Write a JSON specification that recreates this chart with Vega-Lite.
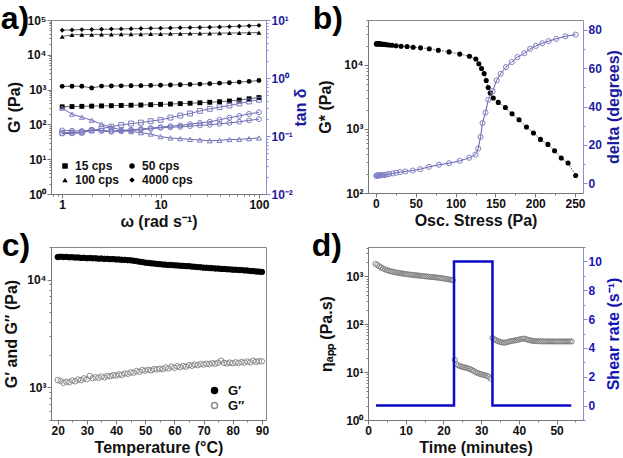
{
"$schema": "https://vega.github.io/schema/vega-lite/v6.json",
"background": "white",
"padding": {"left": 0, "top": 2, "right": 0, "bottom": 0},
"datasets": {
"pa": [
{"w":1,"s":"15 cps","g":320,"t":0.114},{"w":1.259,"s":"15 cps","g":325,"t":0.115},{"w":1.585,"s":"15 cps","g":330,"t":0.116},{"w":1.995,"s":"15 cps","g":335,"t":0.124},{"w":2.512,"s":"15 cps","g":340,"t":0.134},{"w":3.162,"s":"15 cps","g":345,"t":0.145},{"w":3.981,"s":"15 cps","g":350,"t":0.155},{"w":5.012,"s":"15 cps","g":355,"t":0.164},{"w":6.31,"s":"15 cps","g":360,"t":0.170},{"w":7.943,"s":"15 cps","g":368,"t":0.180},{"w":10,"s":"15 cps","g":376,"t":0.190},{"w":12.59,"s":"15 cps","g":385,"t":0.208},{"w":15.85,"s":"15 cps","g":395,"t":0.225},{"w":19.95,"s":"15 cps","g":405,"t":0.244},{"w":25.12,"s":"15 cps","g":418,"t":0.271},{"w":31.62,"s":"15 cps","g":432,"t":0.294},{"w":39.81,"s":"15 cps","g":448,"t":0.314},{"w":50.12,"s":"15 cps","g":468,"t":0.336},{"w":63.1,"s":"15 cps","g":500,"t":0.364},{"w":79.43,"s":"15 cps","g":545,"t":0.394},{"w":100,"s":"15 cps","g":590,"t":0.422},
{"w":1,"s":"50 cps","g":1240,"t":0.125},{"w":1.259,"s":"50 cps","g":1250,"t":0.123},{"w":1.585,"s":"50 cps","g":1250,"t":0.122},{"w":1.995,"s":"50 cps","g":1110,"t":0.126},{"w":2.512,"s":"50 cps","g":1260,"t":0.124},{"w":3.162,"s":"50 cps","g":1270,"t":0.122},{"w":3.981,"s":"50 cps","g":1280,"t":0.125},{"w":5.012,"s":"50 cps","g":1290,"t":0.128},{"w":6.31,"s":"50 cps","g":1300,"t":0.132},{"w":7.943,"s":"50 cps","g":1320,"t":0.137},{"w":10,"s":"50 cps","g":1340,"t":0.142},{"w":12.59,"s":"50 cps","g":1360,"t":0.148},{"w":15.85,"s":"50 cps","g":1380,"t":0.152},{"w":19.95,"s":"50 cps","g":1410,"t":0.160},{"w":25.12,"s":"50 cps","g":1440,"t":0.168},{"w":31.62,"s":"50 cps","g":1480,"t":0.176},{"w":39.81,"s":"50 cps","g":1530,"t":0.190},{"w":50.12,"s":"50 cps","g":1580,"t":0.207},{"w":63.1,"s":"50 cps","g":1640,"t":0.222},{"w":79.43,"s":"50 cps","g":1720,"t":0.240},{"w":100,"s":"50 cps","g":1820,"t":0.256},
{"w":1,"s":"100 cps","g":33500,"t":0.302},{"w":1.259,"s":"100 cps","g":37500,"t":0.238},{"w":1.585,"s":"100 cps","g":38000,"t":0.211},{"w":1.995,"s":"100 cps","g":38200,"t":0.187},{"w":2.512,"s":"100 cps","g":38500,"t":0.160},{"w":3.162,"s":"100 cps","g":38800,"t":0.141},{"w":3.981,"s":"100 cps","g":39000,"t":0.127},{"w":5.012,"s":"100 cps","g":39300,"t":0.119},{"w":6.31,"s":"100 cps","g":39500,"t":0.114},{"w":7.943,"s":"100 cps","g":39800,"t":0.108},{"w":10,"s":"100 cps","g":40000,"t":0.0975},{"w":12.59,"s":"100 cps","g":40300,"t":0.0925},{"w":15.85,"s":"100 cps","g":40600,"t":0.090},{"w":19.95,"s":"100 cps","g":41000,"t":0.0875},{"w":25.12,"s":"100 cps","g":41300,"t":0.0853},{"w":31.62,"s":"100 cps","g":41600,"t":0.083},{"w":39.81,"s":"100 cps","g":42000,"t":0.084},{"w":50.12,"s":"100 cps","g":42300,"t":0.087},{"w":63.1,"s":"100 cps","g":42600,"t":0.0875},{"w":79.43,"s":"100 cps","g":43000,"t":0.090},{"w":100,"s":"100 cps","g":43500,"t":0.0925},
{"w":1,"s":"4000 cps","g":51000,"t":0.110},{"w":1.259,"s":"4000 cps","g":52000,"t":0.111},{"w":1.585,"s":"4000 cps","g":53000,"t":0.113},{"w":1.995,"s":"4000 cps","g":53500,"t":0.128},{"w":2.512,"s":"4000 cps","g":54000,"t":0.122},{"w":3.162,"s":"4000 cps","g":55000,"t":0.118},{"w":3.981,"s":"4000 cps","g":55500,"t":0.120},{"w":5.012,"s":"4000 cps","g":56000,"t":0.124},{"w":6.31,"s":"4000 cps","g":57000,"t":0.128},{"w":7.943,"s":"4000 cps","g":57500,"t":0.133},{"w":10,"s":"4000 cps","g":58000,"t":0.138},{"w":12.59,"s":"4000 cps","g":59000,"t":0.141},{"w":15.85,"s":"4000 cps","g":60000,"t":0.144},{"w":19.95,"s":"4000 cps","g":60500,"t":0.148},{"w":25.12,"s":"4000 cps","g":61000,"t":0.152},{"w":31.62,"s":"4000 cps","g":62000,"t":0.156},{"w":39.81,"s":"4000 cps","g":63000,"t":0.162},{"w":50.12,"s":"4000 cps","g":64500,"t":0.168},{"w":63.1,"s":"4000 cps","g":66000,"t":0.176},{"w":79.43,"s":"4000 cps","g":68000,"t":0.186},{"w":100,"s":"4000 cps","g":70000,"t":0.195}
],
"pbG": [
{"x":0.5,"y":21200},{"x":1,"y":21300},{"x":1.5,"y":21300},{"x":2.5,"y":21300},{"x":3.5,"y":21200},{"x":4.5,"y":21200},{"x":6,"y":21100},{"x":7.5,"y":21000},{"x":9,"y":20900},{"x":11,"y":20800},{"x":13.5,"y":20600},{"x":16.5,"y":20400},{"x":20.2,"y":20200},{"x":25.3,"y":19800},{"x":31.6,"y":19500},{"x":39.1,"y":19300},{"x":46.7,"y":18800},{"x":56,"y":18400},{"x":66.9,"y":17800},{"x":78.3,"y":16900},{"x":91.8,"y":15900},{"x":105.2,"y":14700},{"x":117.4,"y":13600},{"x":125.4,"y":12300},{"x":129.2,"y":10400},{"x":132.6,"y":8770},{"x":135.9,"y":7330},{"x":138.5,"y":5700},{"x":141,"y":4430},{"x":143.5,"y":3620},{"x":147.3,"y":3030},{"x":153.6,"y":2590},{"x":162.5,"y":2160},{"x":170.9,"y":1720},{"x":179.7,"y":1390},{"x":189,"y":1070},{"x":197.8,"y":861},{"x":206.6,"y":686},{"x":215.9,"y":573},{"x":224.3,"y":457},{"x":232.7,"y":351},{"x":241.2,"y":294},{"x":250.8,"y":188}
],
"pbD": [
{"x":0.5,"y":4.0},{"x":1,"y":4.0},{"x":1.5,"y":4.1},{"x":2.5,"y":4.1},{"x":3.5,"y":4.1},{"x":4.5,"y":4.2},{"x":6,"y":4.2},{"x":7.5,"y":4.3},{"x":9,"y":4.3},{"x":11,"y":4.4},{"x":13.5,"y":4.6},{"x":16.5,"y":4.9},{"x":21,"y":5.2},{"x":25.5,"y":5.5},{"x":30.3,"y":5.9},{"x":37,"y":6.2},{"x":46.3,"y":6.7},{"x":55.6,"y":7.4},{"x":66.5,"y":8.6},{"x":79.1,"y":9.7},{"x":91.8,"y":10.5},{"x":105.2,"y":11.7},{"x":117,"y":13.3},{"x":125,"y":15.0},{"x":128.4,"y":18.1},{"x":131.3,"y":24.2},{"x":133.8,"y":31.4},{"x":137.6,"y":36.9},{"x":141,"y":43.5},{"x":146.5,"y":48.0},{"x":151.5,"y":53.6},{"x":156.6,"y":57.0},{"x":163.3,"y":60.5},{"x":170.5,"y":63.1},{"x":177.6,"y":65.7},{"x":186.4,"y":67.7},{"x":193.6,"y":70.0},{"x":200.8,"y":71.5},{"x":208.8,"y":72.9},{"x":216.8,"y":74.0},{"x":226.4,"y":75.2},{"x":237.8,"y":76.5},{"x":250.8,"y":77.4}
],
"pc": [
{"T":20,"v":16150,"s":"G′"},{"T":21,"v":16250,"s":"G′"},{"T":22,"v":16150,"s":"G′"},{"T":23,"v":16200,"s":"G′"},{"T":24,"v":16050,"s":"G′"},{"T":25,"v":16100,"s":"G′"},{"T":26,"v":15950,"s":"G′"},{"T":27,"v":16000,"s":"G′"},{"T":28,"v":15850,"s":"G′"},{"T":29,"v":15900,"s":"G′"},{"T":30,"v":15750,"s":"G′"},{"T":31,"v":15800,"s":"G′"},{"T":32,"v":15700,"s":"G′"},{"T":33,"v":15720,"s":"G′"},{"T":34,"v":15600,"s":"G′"},{"T":35,"v":15640,"s":"G′"},{"T":36,"v":15520,"s":"G′"},{"T":37,"v":15540,"s":"G′"},{"T":38,"v":15430,"s":"G′"},{"T":39,"v":15450,"s":"G′"},{"T":40,"v":15340,"s":"G′"},{"T":41,"v":15320,"s":"G′"},{"T":42,"v":15230,"s":"G′"},{"T":43,"v":15200,"s":"G′"},{"T":44,"v":15100,"s":"G′"},{"T":45,"v":15050,"s":"G′"},{"T":46,"v":14920,"s":"G′"},{"T":47,"v":14800,"s":"G′"},{"T":48,"v":14620,"s":"G′"},{"T":49,"v":14500,"s":"G′"},{"T":50,"v":14330,"s":"G′"},{"T":51,"v":14250,"s":"G′"},{"T":52,"v":14120,"s":"G′"},{"T":53,"v":14060,"s":"G′"},{"T":54,"v":13940,"s":"G′"},{"T":55,"v":13880,"s":"G′"},{"T":56,"v":13760,"s":"G′"},{"T":57,"v":13720,"s":"G′"},{"T":58,"v":13630,"s":"G′"},{"T":59,"v":13610,"s":"G′"},{"T":60,"v":13520,"s":"G′"},{"T":61,"v":13500,"s":"G′"},{"T":62,"v":13410,"s":"G′"},{"T":63,"v":13380,"s":"G′"},{"T":64,"v":13290,"s":"G′"},{"T":65,"v":13270,"s":"G′"},{"T":66,"v":13170,"s":"G′"},{"T":67,"v":13120,"s":"G′"},{"T":68,"v":13020,"s":"G′"},{"T":69,"v":12980,"s":"G′"},{"T":70,"v":12870,"s":"G′"},{"T":71,"v":12840,"s":"G′"},{"T":72,"v":12760,"s":"G′"},{"T":73,"v":12730,"s":"G′"},{"T":74,"v":12650,"s":"G′"},{"T":75,"v":12620,"s":"G′"},{"T":76,"v":12540,"s":"G′"},{"T":77,"v":12520,"s":"G′"},{"T":78,"v":12440,"s":"G′"},{"T":79,"v":12410,"s":"G′"},{"T":80,"v":12330,"s":"G′"},{"T":81,"v":12320,"s":"G′"},{"T":82,"v":12240,"s":"G′"},{"T":83,"v":12220,"s":"G′"},{"T":84,"v":12140,"s":"G′"},{"T":85,"v":12110,"s":"G′"},{"T":86,"v":12010,"s":"G′"},{"T":87,"v":11970,"s":"G′"},{"T":88,"v":11870,"s":"G′"},{"T":89,"v":11830,"s":"G′"},{"T":90,"v":11760,"s":"G′"},
{"T":20,"v":1170,"s":"G″"},{"T":21,"v":1150,"s":"G″"},{"T":22,"v":1105,"s":"G″"},{"T":23,"v":1130,"s":"G″"},{"T":24,"v":1120,"s":"G″"},{"T":25,"v":1160,"s":"G″"},{"T":26,"v":1140,"s":"G″"},{"T":27,"v":1185,"s":"G″"},{"T":28,"v":1170,"s":"G″"},{"T":29,"v":1215,"s":"G″"},{"T":30,"v":1190,"s":"G″"},{"T":31,"v":1280,"s":"G″"},{"T":32,"v":1220,"s":"G″"},{"T":33,"v":1245,"s":"G″"},{"T":34,"v":1230,"s":"G″"},{"T":35,"v":1265,"s":"G″"},{"T":36,"v":1240,"s":"G″"},{"T":37,"v":1280,"s":"G″"},{"T":38,"v":1270,"s":"G″"},{"T":39,"v":1300,"s":"G″"},{"T":40,"v":1290,"s":"G″"},{"T":41,"v":1320,"s":"G″"},{"T":42,"v":1310,"s":"G″"},{"T":43,"v":1350,"s":"G″"},{"T":44,"v":1340,"s":"G″"},{"T":45,"v":1380,"s":"G″"},{"T":46,"v":1370,"s":"G″"},{"T":47,"v":1420,"s":"G″"},{"T":48,"v":1400,"s":"G″"},{"T":49,"v":1450,"s":"G″"},{"T":50,"v":1430,"s":"G″"},{"T":51,"v":1460,"s":"G″"},{"T":52,"v":1440,"s":"G″"},{"T":53,"v":1480,"s":"G″"},{"T":54,"v":1470,"s":"G″"},{"T":55,"v":1490,"s":"G″"},{"T":56,"v":1480,"s":"G″"},{"T":57,"v":1530,"s":"G″"},{"T":58,"v":1500,"s":"G″"},{"T":59,"v":1560,"s":"G″"},{"T":60,"v":1520,"s":"G″"},{"T":61,"v":1570,"s":"G″"},{"T":62,"v":1540,"s":"G″"},{"T":63,"v":1580,"s":"G″"},{"T":64,"v":1560,"s":"G″"},{"T":65,"v":1610,"s":"G″"},{"T":66,"v":1590,"s":"G″"},{"T":67,"v":1630,"s":"G″"},{"T":68,"v":1610,"s":"G″"},{"T":69,"v":1650,"s":"G″"},{"T":70,"v":1630,"s":"G″"},{"T":71,"v":1660,"s":"G″"},{"T":72,"v":1650,"s":"G″"},{"T":73,"v":1680,"s":"G″"},{"T":74,"v":1660,"s":"G″"},{"T":75,"v":1700,"s":"G″"},{"T":76,"v":1770,"s":"G″"},{"T":77,"v":1690,"s":"G″"},{"T":78,"v":1670,"s":"G″"},{"T":79,"v":1700,"s":"G″"},{"T":80,"v":1680,"s":"G″"},{"T":81,"v":1710,"s":"G″"},{"T":82,"v":1690,"s":"G″"},{"T":83,"v":1720,"s":"G″"},{"T":84,"v":1700,"s":"G″"},{"T":85,"v":1740,"s":"G″"},{"T":86,"v":1710,"s":"G″"},{"T":87,"v":1770,"s":"G″"},{"T":88,"v":1730,"s":"G″"},{"T":89,"v":1750,"s":"G″"},{"T":90,"v":1745,"s":"G″"}
],
"pd": [
{"t":2.0,"v":1820},{"t":2.5,"v":1720},{"t":3.0,"v":1620},{"t":3.5,"v":1530},{"t":4.0,"v":1460},{"t":4.5,"v":1400},{"t":5.0,"v":1350},{"t":5.5,"v":1310},{"t":6.0,"v":1280},{"t":6.5,"v":1250},{"t":7.0,"v":1225},{"t":7.5,"v":1205},{"t":8.0,"v":1185},{"t":8.5,"v":1165},{"t":9.0,"v":1150},{"t":9.5,"v":1130},{"t":10.0,"v":1115},{"t":10.5,"v":1100},{"t":11.0,"v":1090},{"t":11.5,"v":1080},{"t":12.0,"v":1065},{"t":12.5,"v":1055},{"t":13.0,"v":1045},{"t":13.5,"v":1035},{"t":14.0,"v":1025},{"t":14.5,"v":1015},{"t":15.0,"v":1005},{"t":15.5,"v":995},{"t":16.0,"v":985},{"t":16.5,"v":975},{"t":17.0,"v":965},{"t":17.5,"v":958},{"t":18.0,"v":950},{"t":18.5,"v":940},{"t":19.0,"v":928},{"t":19.5,"v":915},{"t":20.0,"v":902},{"t":20.5,"v":890},{"t":21.0,"v":875},{"t":21.5,"v":860},{"t":22.0,"v":845},{"t":22.5,"v":826},
{"t":23.0,"v":18.0},{"t":23.5,"v":14.6},{"t":24.0,"v":13.8},{"t":24.5,"v":13.2},{"t":25.0,"v":12.9},{"t":25.5,"v":12.6},{"t":26.0,"v":12.3},{"t":26.5,"v":12.0},{"t":27.0,"v":11.6},{"t":27.5,"v":11.1},{"t":28.0,"v":10.6},{"t":28.5,"v":10.0},{"t":29.0,"v":9.6},{"t":29.5,"v":9.3},{"t":30.0,"v":9.0},{"t":30.5,"v":8.8},{"t":31.0,"v":8.6},{"t":31.5,"v":8.4},{"t":32.0,"v":8.0},{"t":32.5,"v":7.3},
{"t":33.0,"v":51.5},{"t":33.5,"v":48.5},{"t":34.0,"v":46.0},{"t":34.5,"v":44.0},{"t":35.0,"v":42.8},{"t":35.5,"v":41.8},{"t":36.0,"v":41.0},{"t":36.5,"v":41.5},{"t":37.0,"v":42.5},{"t":37.5,"v":43.7},{"t":38.0,"v":44.6},{"t":38.5,"v":45.4},{"t":39.0,"v":46.0},{"t":39.5,"v":46.8},{"t":40.0,"v":47.8},{"t":40.5,"v":49.0},{"t":41.0,"v":49.8},{"t":41.5,"v":50.0},{"t":42.0,"v":48.5},{"t":42.5,"v":47.0},{"t":43.0,"v":46.0},{"t":43.5,"v":45.2},{"t":44.0,"v":44.7},{"t":44.5,"v":44.3},{"t":45.0,"v":44.1},{"t":45.5,"v":44.0},{"t":46.0,"v":43.9},{"t":46.5,"v":43.8},{"t":47.0,"v":43.8},{"t":47.5,"v":43.7},{"t":48.0,"v":43.7},{"t":48.5,"v":43.7},{"t":49.0,"v":43.7},{"t":49.5,"v":43.7},{"t":50.0,"v":43.7},{"t":50.5,"v":43.7},{"t":51.0,"v":43.7},{"t":51.5,"v":43.7},{"t":52.0,"v":43.7},{"t":52.5,"v":43.7},{"t":53.0,"v":43.7},{"t":53.5,"v":43.7},{"t":54.0,"v":43.7}
],
"pdS": [
{"i":1,"t":2.1,"r":0},{"i":2,"t":22.8,"r":0},{"i":3,"t":22.8,"r":10},{"i":4,"t":33.0,"r":10},{"i":5,"t":33.0,"r":0},{"i":6,"t":53.9,"r":0}
]
},
"config": {
"font": "Liberation Sans",
"view": {"stroke": "#888888", "strokeWidth": 1},
"axis": {"grid": false, "labelFont": "Liberation Sans", "labelFontWeight": "bold", "labelFontSize": 12, "labelColor": "#111111", "titleFont": "Liberation Sans", "titleFontSize": 16, "titleFontWeight": "bold", "titleColor": "#111111", "domainColor": "#777777", "tickColor": "#777777", "labelPadding": 1, "labelFlush": false, "labelOverlap": false},
"title": {"font": "Liberation Sans", "fontSize": 32, "fontWeight": "bold", "color": "#000000", "anchor": "start", "frame": "bounds", "offset": -22},
"legend": {"labelFont": "Liberation Sans", "labelFontWeight": "bold", "labelFontSize": 12, "labelColor": "#111111"}
},
"columns": 2,
"spacing": {"row": -1, "column": 2},
"resolve": {"scale": {"shape": "independent", "fill": "independent", "stroke": "independent"}, "legend": {"shape": "independent", "fill": "independent", "stroke": "independent"}},
"concat": [
{
"title": {"text": "a)", "dx": -6},
"width": 215, "height": 174,
"data": {"name": "pa"},
"encoding": {"x": {"field": "w", "type": "quantitative", "scale": {"type": "log", "domain": [0.77, 118]}, "axis": {"title": "ω (rad s⁻¹)", "values": [0.8,0.9,1,2,3,4,5,6,7,8,9,10,20,30,40,50,60,70,80,90,100], "labelExpr": "abs(log(datum.value)/LN10 - round(log(datum.value)/LN10)) < 1e-6 ? format(datum.value, 'd') : ''", "tickSize": {"condition": {"test": "abs(log(datum.value)/LN10 - round(log(datum.value)/LN10)) < 1e-6", "value": 4}, "value": 2}, "titlePadding": 3}}},
"layer": [
{"layer": [
{"mark": {"type": "line", "color": "#333333", "strokeWidth": 0.8}, "encoding": {"detail": {"field": "s"}}},
{"mark": {"type": "point", "filled": true, "color": "#000000", "size": 24, "opacity": 1}, "encoding": {"shape": {"field": "s", "type": "nominal", "scale": {"domain": ["15 cps","50 cps","100 cps","4000 cps"], "range": ["square","circle","triangle-up","diamond"]}, "legend": {"orient": "bottom-left", "columns": 2, "values": ["15 cps","100 cps","50 cps","4000 cps"], "title": null, "symbolSize": 30, "columnPadding": 6, "rowPadding": 2, "offset": 8, "padding": 0, "labelOffset": 4}}}}
],
"encoding": {"y": {"field": "g", "type": "quantitative", "scale": {"type": "log", "domain": [1, 100000]}, "axis": {"title": "G' (Pa)", "titlePadding": 4, "values": [1,2,3,4,5,6,7,8,9,10,20,30,40,50,60,70,80,90,100,200,300,400,500,600,700,800,900,1000,2000,3000,4000,5000,6000,7000,8000,9000,10000,20000,30000,40000,50000,60000,70000,80000,90000,100000], "labelExpr": "abs(log(datum.value)/LN10 - round(log(datum.value)/LN10)) < 1e-6 ? '10' + ['⁻²','⁻¹','⁰','¹','²','³','⁴','⁵'][round(log(datum.value)/LN10) + 2] : ''", "tickSize": {"condition": {"test": "abs(log(datum.value)/LN10 - round(log(datum.value)/LN10)) < 1e-6", "value": 4}, "value": 2}}}}
},
{"layer": [
{"mark": {"type": "line", "color": "#6a6ab0", "strokeWidth": 1}, "encoding": {"detail": {"field": "s"}}},
{"mark": {"type": "point", "filled": false, "color": "#7c7cc0", "strokeWidth": 1, "size": 24, "opacity": 1}, "encoding": {"shape": {"field": "s", "type": "nominal", "scale": {"domain": ["15 cps","50 cps","100 cps","4000 cps"], "range": ["square","circle","triangle-up","circle"]}, "legend": null}}}
],
"encoding": {"y": {"field": "t", "type": "quantitative", "scale": {"type": "log", "domain": [0.01, 10]}, "axis": {"orient": "right", "title": "tan δ", "titleAngle": 270, "titleBaseline": "top", "titleColor": "#1c1ca0", "labelColor": "#1c1ca0", "domainColor": "#8c8cd0", "tickColor": "#8c8cd0", "titlePadding": 0, "values": [0.01,0.02,0.03,0.04,0.05,0.06,0.07,0.08,0.09,0.1,0.2,0.3,0.4,0.5,0.6,0.7,0.8,0.9,1,2,3,4,5,6,7,8,9,10], "labelExpr": "abs(log(datum.value)/LN10 - round(log(datum.value)/LN10)) < 1e-6 ? '10' + ['⁻²','⁻¹','⁰','¹','²','³','⁴','⁵'][round(log(datum.value)/LN10) + 2] : ''", "tickSize": {"condition": {"test": "abs(log(datum.value)/LN10 - round(log(datum.value)/LN10)) < 1e-6", "value": 4}, "value": 2}}}}
}
],
"resolve": {"scale": {"y": "independent", "shape": "independent"}, "legend": {"shape": "independent"}}
},
{
"title": {"text": "b)", "dx": -5},
"width": 215, "height": 173,
"encoding": {"x": {"field": "x", "type": "quantitative", "scale": {"domain": [-10, 260], "nice": false}, "axis": {"title": "Osc. Stress (Pa)", "values": [0,25,50,75,100,125,150,175,200,225,250], "labelExpr": "datum.value % 50 == 0 ? datum.label : ''", "tickSize": {"condition": {"test": "datum.value % 50 == 0", "value": 4}, "value": 2}, "titlePadding": 3}}},
"layer": [
{"data": {"name": "pbG"},
"layer": [
{"mark": {"type": "line", "color": "#555555", "strokeWidth": 0.8, "strokeDash": [2, 1]}, "encoding": {}},
{"mark": {"type": "point", "filled": true, "color": "#000000", "size": 26, "opacity": 1}, "encoding": {}}
],
"encoding": {"y": {"field": "y", "type": "quantitative", "scale": {"type": "log", "domain": [100, 50000]}, "axis": {"title": "G* (Pa)", "titlePadding": 10, "values": [100,200,300,400,500,600,700,800,900,1000,2000,3000,4000,5000,6000,7000,8000,9000,10000,20000,30000,40000,50000], "labelExpr": "abs(log(datum.value)/LN10 - round(log(datum.value)/LN10)) < 1e-6 ? '10' + ['⁻²','⁻¹','⁰','¹','²','³','⁴','⁵'][round(log(datum.value)/LN10) + 2] : ''", "tickSize": {"condition": {"test": "abs(log(datum.value)/LN10 - round(log(datum.value)/LN10)) < 1e-6", "value": 4}, "value": 2}}}}
},
{"data": {"name": "pbD"},
"layer": [
{"mark": {"type": "line", "color": "#5c5cac", "strokeWidth": 1}, "encoding": {}},
{"mark": {"type": "point", "filled": false, "color": "#8080c4", "strokeWidth": 1, "size": 26, "opacity": 1}, "encoding": {}}
],
"encoding": {"y": {"field": "y", "type": "quantitative", "scale": {"domain": [-5, 85], "nice": false}, "axis": {"orient": "right", "title": "delta (degrees)", "titleAngle": 270, "titleBaseline": "top", "titleColor": "#1c1ca0", "labelColor": "#1c1ca0", "domainColor": "#8c8cd0", "tickColor": "#8c8cd0", "titlePadding": 4, "values": [0,10,20,30,40,50,60,70,80], "labelExpr": "datum.value % 20 == 0 ? datum.label : ''", "tickSize": {"condition": {"test": "datum.value % 20 == 0", "value": 4}, "value": 2}}}}
}
],
"resolve": {"scale": {"y": "independent"}}
},
{
"title": {"text": "c)", "dx": -2},
"width": 215, "height": 173,
"data": {"name": "pc"},
"mark": {"type": "point", "strokeWidth": 1, "size": 30, "opacity": 1},
"encoding": {
"x": {"field": "T", "type": "quantitative", "scale": {"domain": [17.7, 91.4], "nice": false}, "axis": {"title": "Temperature (°C)", "values": [20,25,30,35,40,45,50,55,60,65,70,75,80,85,90], "labelExpr": "datum.value % 10 == 0 ? datum.label : ''", "tickSize": {"condition": {"test": "datum.value % 10 == 0", "value": 4}, "value": 2}, "titlePadding": 3}},
"y": {"field": "v", "type": "quantitative", "scale": {"type": "log", "domain": [500, 20000]}, "axis": {"title": "G′ and G″ (Pa)", "titlePadding": 7, "values": [500,600,700,800,900,1000,2000,3000,4000,5000,6000,7000,8000,9000,10000,20000], "labelExpr": "abs(log(datum.value)/LN10 - round(log(datum.value)/LN10)) < 1e-6 ? '10' + ['⁻²','⁻¹','⁰','¹','²','³','⁴','⁵'][round(log(datum.value)/LN10) + 2] : ''", "tickSize": {"condition": {"test": "abs(log(datum.value)/LN10 - round(log(datum.value)/LN10)) < 1e-6", "value": 4}, "value": 2}}},
"fill": {"field": "s", "type": "nominal", "scale": {"domain": ["G′","G″"], "range": ["#000000","transparent"]}, "legend": {"orient": "none", "legendX": 157, "legendY": 137, "title": null, "padding": 0, "rowPadding": 1, "symbolSize": 36, "labelFontSize": 13, "labelOffset": 7}},
"stroke": {"field": "s", "type": "nominal", "scale": {"domain": ["G′","G″"], "range": ["#000000","#8a8a8a"]}, "legend": {"orient": "none", "legendX": 157, "legendY": 137, "title": null, "padding": 0, "rowPadding": 1, "symbolSize": 36, "labelFontSize": 13, "labelOffset": 7}}
}
},
{
"title": {"text": "d)", "dx": -7},
"width": 215, "height": 173,
"encoding": {"x": {"field": "t", "type": "quantitative", "scale": {"domain": [0, 57], "nice": false}, "axis": {"title": "Time (minutes)", "values": [0,5,10,15,20,25,30,35,40,45,50,55], "labelExpr": "datum.value % 10 == 0 ? datum.label : ''", "tickSize": {"condition": {"test": "datum.value % 10 == 0", "value": 4}, "value": 2}, "titlePadding": 3}}},
"layer": [
{"data": {"name": "pd"},
"mark": {"type": "point", "filled": false, "color": "#808080", "strokeWidth": 1, "size": 26, "opacity": 1},
"encoding": {"y": {"field": "v", "type": "quantitative", "scale": {"type": "log", "domain": [1, 4100]}, "axis": {"title": "ηₐₚₚ (Pa.s)", "titlePadding": 11, "values": [1,2,3,4,5,6,7,8,9,10,20,30,40,50,60,70,80,90,100,200,300,400,500,600,700,800,900,1000,2000,3000,4000], "labelExpr": "abs(log(datum.value)/LN10 - round(log(datum.value)/LN10)) < 1e-6 ? '10' + ['⁻²','⁻¹','⁰','¹','²','³','⁴','⁵'][round(log(datum.value)/LN10) + 2] : ''", "tickSize": {"condition": {"test": "abs(log(datum.value)/LN10 - round(log(datum.value)/LN10)) < 1e-6", "value": 4}, "value": 2}}}}
},
{"data": {"name": "pdS"},
"mark": {"type": "line", "color": "#0a0ac8", "strokeWidth": 2.5},
"encoding": {"order": {"field": "i", "type": "quantitative"}, "y": {"field": "r", "type": "quantitative", "scale": {"domain": [-1, 11], "nice": false}, "axis": {"orient": "right", "title": "Shear rate (s⁻¹)", "titleAngle": 270, "titleBaseline": "top", "titleColor": "#1414b4", "labelColor": "#1414b4", "domainColor": "#8c8cd0", "tickColor": "#8c8cd0", "titlePadding": 4, "values": [-1,0,1,2,3,4,5,6,7,8,9,10,11], "labelExpr": "datum.value % 2 == 0 && datum.value >= 0 && datum.value <= 10 ? datum.label : ''", "tickSize": {"condition": {"test": "datum.value % 2 == 0", "value": 4}, "value": 2}}}}
}
],
"resolve": {"scale": {"y": "independent"}}
}
]
}
